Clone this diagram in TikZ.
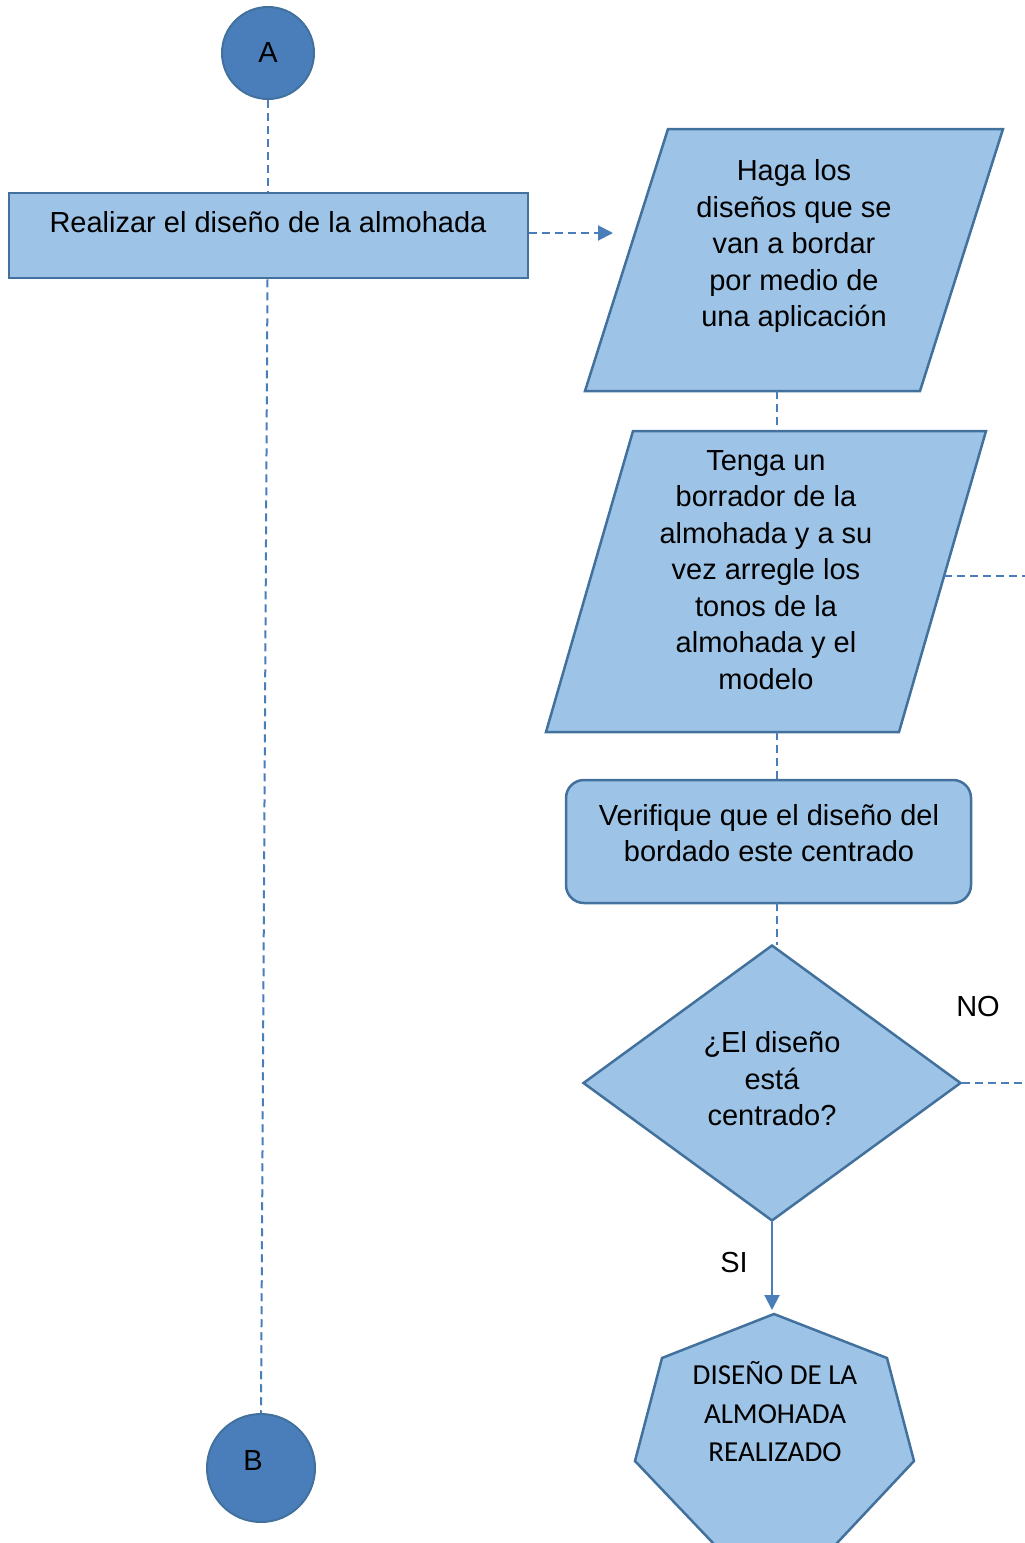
\documentclass[tikz,border=0pt]{standalone}
\usepackage{fontspec}
\setmainfont{Liberation Sans}
\newfontfamily\calib{Carlito}
\usetikzlibrary{shapes.geometric,arrows.meta}
\definecolor{fillb}{HTML}{9DC3E6}
\definecolor{edgeb}{HTML}{41719C}
\definecolor{circb}{HTML}{4A7EBB}
\definecolor{lineb}{HTML}{4A7EBB}
\begin{document}
\begin{tikzpicture}[x=1pt,y=-1pt,
  shp/.style={draw=edgeb, fill=fillb, line width=2.5pt},
  circ/.style={circle, draw=edgeb, fill=circb, line width=2pt, inner sep=0},
  txt/.style={font=\fontsize{29}{36.5}\selectfont, align=center, inner sep=0},
  ctxt/.style={font=\calib\fontsize{29}{38.5}\selectfont, align=center, inner sep=0},
  conn/.style={draw=lineb, line width=2pt, dash pattern=on 8pt off 5pt},
  solidconn/.style={draw=lineb, line width=2pt},
  tip/.style={-{Triangle[length=15pt,width=15pt]}}
]
\useasboundingbox (0,0) rectangle (1025,1543);

% circles
\node[circ, minimum size=92pt, txt] (A) at (268,53) {A};
\node[circ, minimum size=108pt] (B) at (261,1468) {};
\node[txt] (Bl) at (253,1461) {B};

% rectangle
\node[shp, rectangle, minimum width=519pt, minimum height=85pt, inner sep=0] (R) at (268.5,235.5) {};
\node[txt] (Rt) at (268,222) {Realizar el diseño de la almohada};

% parallelogram 1
\draw[shp] (668,129) -- (1003,129) -- (920,391) -- (585,391) -- cycle;
\node[txt] (P1) at (794,246) {Haga los\\diseños que se\\van a bordar\\por medio de\\una aplicación};
\coordinate (p1in) at (613,233);
\coordinate (p1b) at (777,391);

% parallelogram 2
\draw[shp] (633,431) -- (986,431) -- (899,732) -- (546,732) -- cycle;
\node[txt] (P2) at (766,570) {Tenga un\\borrador de la\\almohada y a su\\vez arregle los\\tonos de la\\almohada y el\\modelo};
\coordinate (p2t) at (777,431);
\coordinate (p2b) at (777,732);
\coordinate (p2r) at (944,576);
\coordinate (p2out) at (1025,576);

% rounded rectangle
\node[shp, rectangle, rounded corners=18pt, minimum width=405pt, minimum height=123pt, inner sep=0] (V) at (768.5,841.5) {};
\node[txt] (Vt) at (769,833) {Verifique que el diseño del\\bordado este centrado};
\coordinate (vt) at (777,780);
\coordinate (vb) at (777,903);

% diamond
\node[shp, diamond, minimum width=378pt, minimum height=276pt, inner sep=0] (D) at (772,1083) {};
\node[txt] (Dt) at (772,1079) {¿El diseño\\está\\centrado?};
\coordinate (dt) at (777,945);
\coordinate (dout) at (1025,1083);
\node[txt] (NO) at (978,1007) {NO};
\node[txt] (SI) at (734,1262) {SI};

% heptagon
\draw[shp] (774,1314) -- (887,1358) -- (914,1461) -- (828.6,1552) -- (721.5,1552) -- (635,1461) -- (662,1358) -- cycle;
\node[ctxt] (H) at (775,1412) {DISEÑO DE LA\\ALMOHADA\\REALIZADO};
\coordinate (ht) at (772,1310);

% connectors
\draw[conn] (A.south) -- (A.south |- R.north);
\draw[conn] ([xshift=-1pt]R.south) -- (B.north);
\draw[conn, tip] (R.east |- p1in) -- (p1in);
\draw[conn] (p1b) -- (p2t);
\draw[conn] (p2b) -- (vt);
\draw[conn] (vb) -- (dt);
\draw[conn] (p2r) -- (p2out);
\draw[conn] (D.east) -- (dout);
\draw[solidconn, tip] (D.south) -- (ht);
\end{tikzpicture}
\end{document}
